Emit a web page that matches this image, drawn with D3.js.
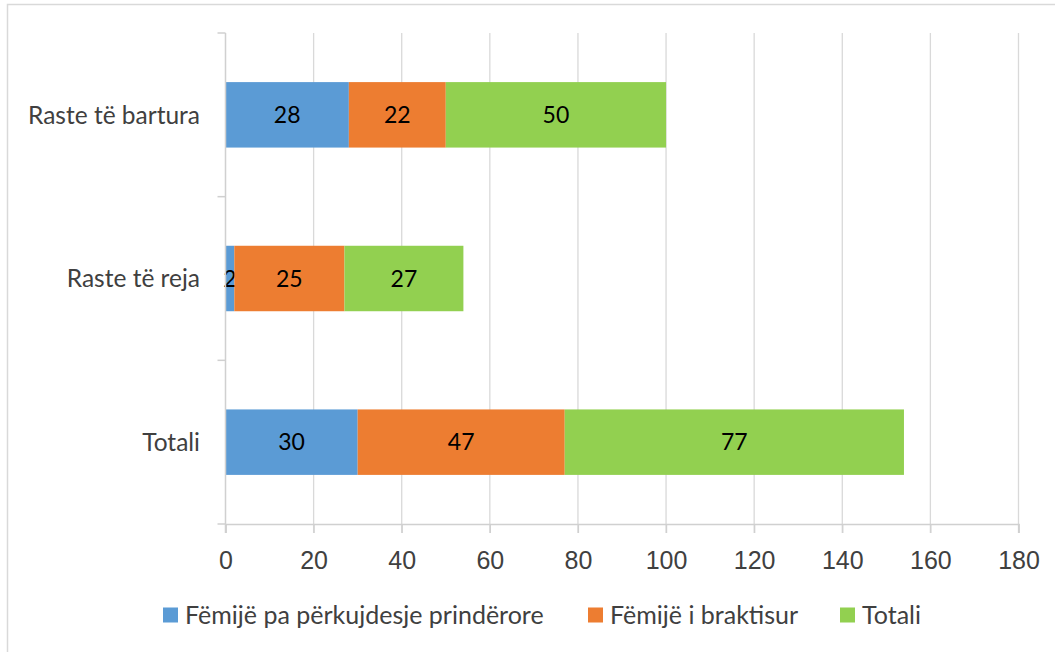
<!DOCTYPE html>
<html>
<head>
<meta charset="utf-8">
<script src="https://cdn.jsdelivr.net/npm/d3@7"></script>
<style>
  body { margin: 0; background: #fff; }
  svg { display: block; font-family: Lato, "Open Sans", sans-serif; }
</style>
</head>
<body>
<svg id="chart" width="1055" height="652"></svg>
<script>
const categories = ['Raste të bartura', 'Raste të reja', 'Totali'];
const seriesNames = ['Fëmijë pa përkujdesje prindërore', 'Fëmijë i braktisur', 'Totali'];
const pakujdesje = [28, 2, 30];
const braktisur = [22, 25, 47];
const totali = [50, 27, 77];
const xTicks = [0, 20, 40, 60, 80, 100, 120, 140, 160, 180];
const colors = ['#5B9BD5', '#ED7D31', '#92D050'];

const svg = d3.select('#chart');
const margin = { top: 33, left: 225.5, right: 1018.5, bottom: 524 };

// frame of the chart area
svg.append('rect')
    .attr('x', 7.5).attr('y', 4.5)
    .attr('width', 1100).attr('height', 700)
    .attr('fill', 'none').attr('stroke', '#d9d9d9').attr('stroke-width', 1.5);

const x = d3.scaleLinear().domain([0, 180]).range([margin.left, margin.right]);
const y = d3.scaleBand().domain(categories).range([margin.top, margin.bottom]).paddingInner(0.6).paddingOuter(0.3);
const yOuter = d3.scaleBand().domain(categories).range([margin.top, margin.bottom]);

// vertical grid lines + ticks below
svg.append('g').selectAll('line')
    .data(xTicks.slice(1))
    .enter().append('line')
    .attr('x1', d => x(d)).attr('x2', d => x(d))
    .attr('y1', margin.top).attr('y2', margin.bottom + 9)
    .attr('stroke', '#d9d9d9').attr('stroke-width', 1.3);

// stacked data
const rows = categories.map((c, i) => ({ cat: c, a: pakujdesje[i], b: braktisur[i], c: totali[i] }));
const stack = d3.stack().keys(['a', 'b', 'c'])(rows);

const layers = svg.append('g').selectAll('g')
    .data(stack)
    .enter().append('g')
    .attr('fill', (d, i) => colors[i]);

layers.selectAll('rect')
    .data(d => d)
    .enter().append('rect')
    .attr('x', d => x(d[0]))
    .attr('y', d => y(d.data.cat))
    .attr('width', d => x(d[1]) - x(d[0]))
    .attr('height', y.bandwidth());

layers.selectAll('text')
    .data(d => d)
    .enter().append('text')
    .attr('x', d => (x(d[0]) + x(d[1])) / 2)
    .attr('y', d => y(d.data.cat) + y.bandwidth() / 2)
    .attr('dy', '0.36em')
    .attr('text-anchor', 'middle')
    .attr('fill', '#000')
    .style('font-size', '23px')
    .text(d => d[1] - d[0]);

// axes
const xAxis = svg.append('g')
    .attr('transform', `translate(0,${margin.bottom})`)
    .call(d3.axisBottom(x).tickValues(xTicks).tickSize(9).tickPadding(18));
xAxis.select('.domain').attr('stroke', '#d0d0d0').attr('stroke-width', 1.5);
xAxis.selectAll('.tick line').attr('stroke', '#d0d0d0').attr('stroke-width', 1.3);
xAxis.selectAll('text').style('font-size', '25px').attr('fill', '#404040');

const yAxisG = svg.append('g');
yAxisG.append('line')
    .attr('x1', margin.left).attr('x2', margin.left)
    .attr('y1', margin.top).attr('y2', margin.bottom + 9)
    .attr('stroke', '#d0d0d0').attr('stroke-width', 1.5);
const bounds = categories.map(c => yOuter(c)).concat([margin.bottom]);
yAxisG.selectAll('.ytick')
    .data(bounds)
    .enter().append('line')
    .attr('x1', margin.left - 8).attr('x2', margin.left)
    .attr('y1', d => d).attr('y2', d => d)
    .attr('stroke', '#d0d0d0').attr('stroke-width', 1.5);
yAxisG.selectAll('text')
    .data(categories)
    .enter().append('text')
    .attr('x', 200)
    .attr('y', d => yOuter(d) + yOuter.bandwidth() / 2)
    .attr('dy', '0.36em')
    .attr('text-anchor', 'end')
    .attr('fill', '#404040')
    .style('font-size', '24.5px')
    .text(d => d);

// legend
const legendX = [163, 588, 840];
const legend = svg.append('g').selectAll('g')
    .data(seriesNames)
    .enter().append('g')
    .attr('transform', (d, i) => `translate(${legendX[i]},615)`);
legend.append('rect')
    .attr('x', 0).attr('y', -7.5)
    .attr('width', 15).attr('height', 15)
    .attr('fill', (d, i) => colors[i]);
legend.append('text')
    .attr('x', 22).attr('y', 0)
    .attr('dy', '0.36em')
    .attr('fill', '#404040')
    .style('font-size', '25px')
    .text(d => d);
</script>
</body>
</html>
